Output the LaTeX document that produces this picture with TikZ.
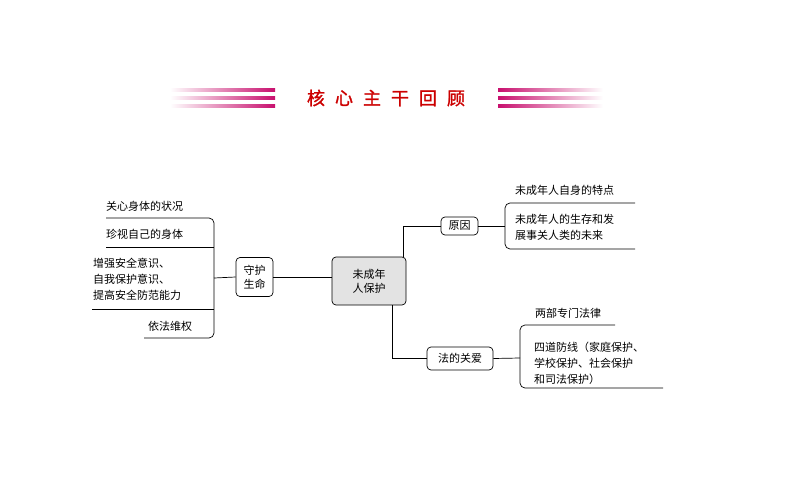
\documentclass[tikz,border=0pt]{standalone}
\usepackage{fontspec}
\setmainfont{Noto Sans CJK SC}
\newfontfamily\cjkb[FakeBold=1.5]{Noto Sans CJK SC}
\begin{document}
\begin{tikzpicture}[x=1pt,y=-1pt,
  box/.style={draw,rounded corners=4pt,line width=0.7pt,align=center,inner sep=2pt,font=\fontsize{11}{14}\selectfont},
  txt/.style={anchor=west,align=left,inner sep=0pt,font=\fontsize{11}{16}\selectfont},
  ln/.style={line width=0.7pt},
  br/.style={line width=0.7pt,rounded corners=5pt}]
\useasboundingbox (0,0) rectangle (794,495);
% title
\definecolor{mag}{RGB}{200,16,110}
\foreach \yy in {90,98,106}{
  \shade[left color=white,right color=mag] (170,\yy-1.2) rectangle (275,\yy+1.2);
  \shade[left color=mag,right color=white] (498,\yy-1.2) rectangle (603,\yy+1.2);
}
\node[text=red!80!black,font=\cjkb\fontsize{18}{20}\selectfont] (title) at (386,98) {核\hspace{10pt}心\hspace{10pt}主\hspace{10pt}干\hspace{10pt}回\hspace{10pt}顾};
% center
\node[box,fill=gray!22,minimum width=74pt,minimum height=48pt] (c) at (369,281) {未成年\\人保护};
\node[box,minimum width=37pt,minimum height=39pt] (sh) at (254.5,277) {守护\\生命};
\node[box,minimum width=37pt,minimum height=18pt] (yy) at (459.5,226) {原因};
\node[box,minimum width=66pt,minimum height=23pt] (fa) at (460,358.5) {法的关爱};
% left bracket
\coordinate (lb) at (214,278);
\draw[br] (106,218) -- (214,218) -- (214,338) -- (144,338);
\draw[ln] (106,247) -- (214,247);
\draw[ln] (92,309) -- (214,309);
\draw[ln] (lb) -- (sh.west);
\draw[ln] (sh.east) -- (c.west |- sh.east);
\node[txt] (l1) at (106,206) {关心身体的状况};
\node[txt] (l2) at (106,234) {珍视自己的身体};
\node[txt] (l3) at (93,279) {增强安全意识、\\自我保护意识、\\提高安全防范能力};
\node[txt] (l4) at (148,326) {依法维权};
% top right
\draw[ln] (403,257) |- (yy.west);
\coordinate (rb1) at (505,226);
\draw[ln] (yy.east) -- (rb1);
\draw[br] (635,203) -- (505,203) -- (505,249) -- (635,249);
\node[txt] (r1) at (515,190) {未成年人自身的特点};
\node[txt] (r2) at (515,227) {未成年人的生存和发\\展事关人类的未来};
% bottom right
\draw[ln] (392,305) |- (fa.west);
\coordinate (rb2) at (520,358);
\draw[ln] (fa.east) -- (rb2);
\draw[br] (615,325) -- (520,325) -- (520,388) -- (663,388);
\node[txt] (r3) at (535,313) {两部专门法律};
\node[txt] (r4) at (534,363) {四道防线（家庭保护、\\学校保护、社会保护\\和司法保护）};
\end{tikzpicture}
\end{document}
